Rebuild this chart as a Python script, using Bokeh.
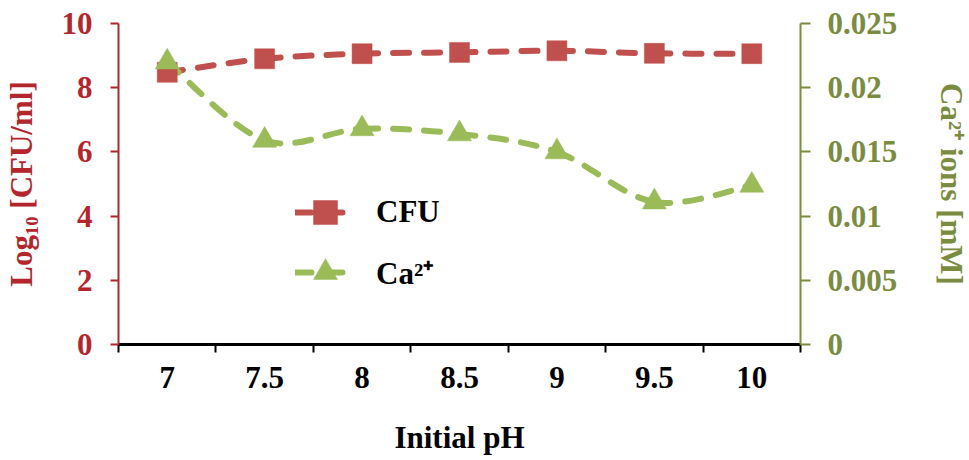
import numpy as np
from bokeh.plotting import figure
from bokeh.models import (Range1d, LinearAxis, FixedTicker, CustomJSTickFormatter,
                          Legend, LegendItem, ColumnDataSource)
from bokeh.embed import file_html
from bokeh.resources import INLINE

# ---- data ----
ph_labels = ["7", "7.5", "8", "8.5", "9", "9.5", "10"]
cfu_log10 = [8.48, 8.90, 9.06, 9.10, 9.15, 9.07, 9.06]
ca_mM = [0.0220, 0.0159, 0.0168, 0.0164, 0.0150, 0.0111, 0.0124]

RED_LINE = "#C0504D"
GREEN_LINE = "#9BBB59"
RED_AXIS = "#B3262C"
GREEN_AXIS = "#7B8C40"
FONT = "Liberation Serif"
FS = "31px"

n = len(ph_labels)
xc = np.arange(n) + 0.5

p = figure(frame_width=682, frame_height=321, output_backend="svg", toolbar_location=None,
           x_range=Range1d(0, n), y_range=Range1d(0, 10),
           min_border_left=113, min_border_right=10, min_border_top=23, min_border_bottom=10)
p.extra_y_ranges = {"ca": Range1d(0, 0.025)}
p.outline_line_color = None
p.xgrid.visible = False
p.ygrid.visible = False
p.background_fill_color = "white"
p.border_fill_color = "white"


def smooth(x, y):
    """Excel-like smoothed line: cubic Bezier control points (Catmull-Rom)."""
    x = np.asarray(x, float)
    y = np.asarray(y, float)
    xp = np.concatenate([[x[0]], x, [x[-1]]])
    yp = np.concatenate([[y[0]], y, [y[-1]]])
    d = dict(x0=[], y0=[], x1=[], y1=[], cx0=[], cy0=[], cx1=[], cy1=[])
    for i in range(len(x) - 1):
        j = i + 1
        d["x0"].append(xp[j]); d["y0"].append(yp[j])
        d["x1"].append(xp[j + 1]); d["y1"].append(yp[j + 1])
        d["cx0"].append(xp[j] + (xp[j + 1] - xp[j - 1]) / 6)
        d["cy0"].append(yp[j] + (yp[j + 1] - yp[j - 1]) / 6)
        d["cx1"].append(xp[j + 1] - (xp[j + 2] - xp[j]) / 6)
        d["cy1"].append(yp[j + 1] - (yp[j + 2] - yp[j]) / 6)
    return ColumnDataSource(d)


dash = "16 15"
cfu_line = p.bezier(x0="x0", y0="y0", x1="x1", y1="y1", cx0="cx0", cy0="cy0",
                    cx1="cx1", cy1="cy1", source=smooth(xc, cfu_log10),
                    line_color=RED_LINE, line_width=6, line_dash=dash, line_cap="round")
ca_line = p.bezier(x0="x0", y0="y0", x1="x1", y1="y1", cx0="cx0", cy0="cy0",
                   cx1="cx1", cy1="cy1", source=smooth(xc, ca_mM), y_range_name="ca",
                   line_color=GREEN_LINE, line_width=6, line_dash=dash, line_cap="round")
cfu_pts = p.scatter(xc, cfu_log10, marker="square", size=20, fill_color=RED_LINE,
                    line_color=RED_LINE, line_width=0.5)
ca_pts = p.scatter(xc, ca_mM, marker="triangle", size=24, fill_color=GREEN_LINE,
                   line_color=GREEN_LINE, line_width=0.5, y_range_name="ca")

# ---- x axis ----
xa = p.xaxis[0]
xa.ticker = FixedTicker(ticks=list(xc), minor_ticks=list(range(n + 1)))
xa.formatter = CustomJSTickFormatter(args=dict(labels=ph_labels),
                                     code="return labels[Math.floor(tick)];")
xa.axis_line_color = "black"
xa.axis_line_width = 3
xa.major_tick_line_color = None
xa.minor_tick_line_color = "black"
xa.minor_tick_line_width = 2
xa.minor_tick_in = 0
xa.minor_tick_out = 8
xa.major_label_text_font = FONT
xa.major_label_text_font_style = "bold"
xa.major_label_text_font_size = FS
xa.major_label_text_color = "black"
xa.major_label_standoff = 14
xa.axis_label = "Initial pH"
xa.axis_label_text_font = FONT
xa.axis_label_text_font_style = "bold"
xa.axis_label_text_font_size = FS
xa.axis_label_text_color = "black"
xa.axis_label_standoff = 29

# ---- left axis ----
ya = p.yaxis[0]
ya.ticker = FixedTicker(ticks=[0, 2, 4, 6, 8, 10])
ya.axis_line_color = RED_AXIS
ya.axis_line_width = 2
ya.major_tick_line_color = RED_AXIS
ya.major_tick_line_width = 2
ya.major_tick_in = 0
ya.major_tick_out = 8
ya.minor_tick_line_color = None
ya.major_label_text_font = FONT
ya.major_label_text_font_style = "bold"
ya.major_label_text_font_size = FS
ya.major_label_text_color = RED_AXIS
ya.major_label_standoff = 18
ya.axis_label = "Log₁₀ [CFU/ml]"
ya.axis_label_text_font = FONT
ya.axis_label_text_font_style = "bold"
ya.axis_label_text_font_size = FS
ya.axis_label_text_color = RED_AXIS
ya.axis_label_standoff = 20

# ---- right axis ----
ra = LinearAxis(y_range_name="ca", ticker=FixedTicker(ticks=[0, 0.005, 0.01, 0.015, 0.02, 0.025]),
                formatter=CustomJSTickFormatter(code="return tick.toString();"))
ra.axis_line_color = GREEN_AXIS
ra.axis_line_width = 2
ra.major_tick_line_color = GREEN_AXIS
ra.major_tick_line_width = 2
ra.major_tick_in = 0
ra.major_tick_out = 10
ra.minor_tick_line_color = None
ra.major_label_text_font = FONT
ra.major_label_text_font_style = "bold"
ra.major_label_text_font_size = FS
ra.major_label_text_color = GREEN_AXIS
ra.major_label_standoff = 17
ra.axis_label = "Ca²⁺ ions [mM]"
ra.axis_label_text_font = FONT
ra.axis_label_text_font_style = "bold"
ra.axis_label_text_font_size = FS
ra.axis_label_text_color = GREEN_AXIS
ra.axis_label_standoff = 34
p.add_layout(ra, "right")

# ---- legend ----
legend = Legend(items=[LegendItem(label="CFU", renderers=[cfu_line, cfu_pts]),
                       LegendItem(label="Ca²⁺", renderers=[ca_line, ca_pts])],
                location=(177, 42), orientation="vertical",
                glyph_width=60, glyph_height=60, label_height=60, spacing=0,
                label_standoff=21, padding=0, margin=0,
                border_line_color=None, background_fill_alpha=0,
                label_text_font=FONT, label_text_font_style="bold",
                label_text_font_size=FS, label_text_color="black")
p.add_layout(legend)

open("out.html", "w").write(file_html(p, INLINE))
